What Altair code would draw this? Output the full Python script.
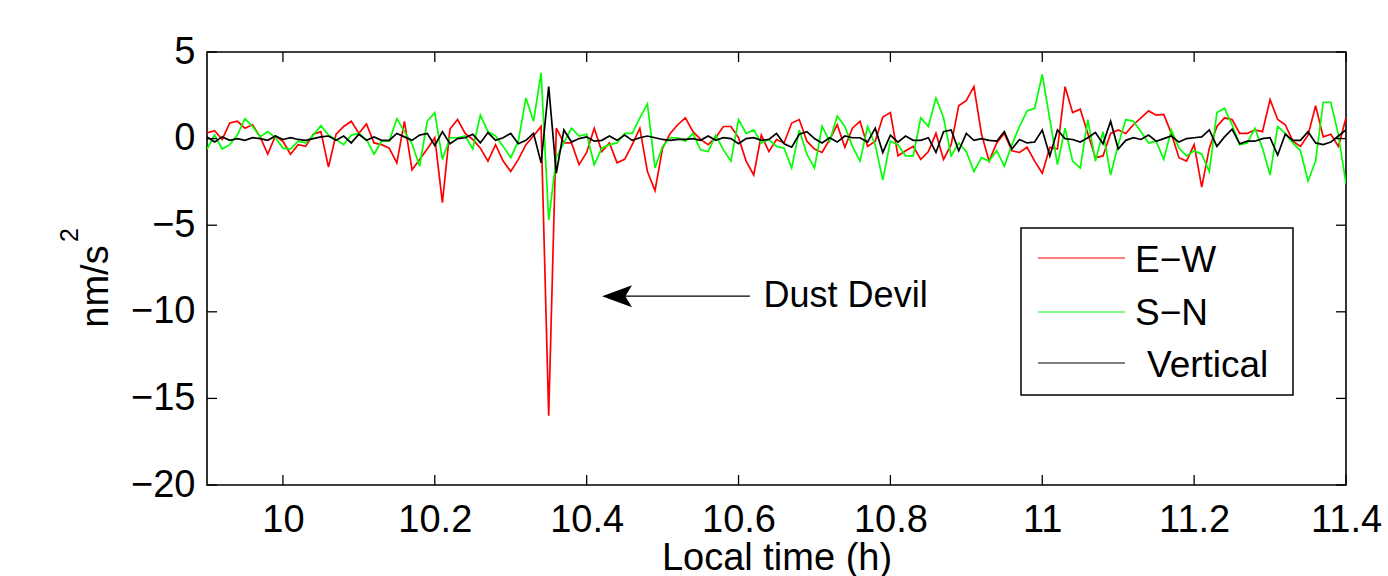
import altair as alt
import pandas as pd
import numpy as np

# Time grid (h): 9.90 ... 11.40, step 0.01
t_start = 9.9
t_step = 0.01
n_pts = 151

ew = [0.33, 0.46, -0.05, 0.9, 1.0, 0.6, 0.8, 0.1, -0.9, 0.15, -0.15, -0.9, -0.35, -0.45, 0.25, 0.4, -1.65, 0.25, 0.7, 1.0, 0.3, 0.85, -0.25, -0.35, -0.55, -1.4,
      1.0, -1.8, -1.2, -0.6, 0.05, -3.7, 0.55, 1.1, 0.3, -0.05, -0.55, -1.3, -0.35, -1.3, -1.9, -1.2, -0.35, 0.15, 0.7, -16.0, 0.6, -0.25, -0.25, -1.5, -0.8, 0.6,
      -0.75, -0.25, -1.4, -1.2, -0.35, 0.6, -1.9, -3.0, -0.55, 0.3, 0.8, 1.2, 0.4, -0.05, -0.35, 0.05, 0.7, 0.7, 0.05, -1.3, -2.1, 0.2, -0.75, -0.05, -0.25,
      0.9, 1.1, -0.15, -0.6, -0.8, -0.05, 0.8, -0.5, 0.6, 1.0, -0.45, -0.15, 1.25, 1.5, -1.0, -0.7, -0.45, -1.2, -0.75, 0.3, -1.2, -0.35, 1.9, 2.2, 3.0, 0.25,
      -1.3, -0.25, 0.3, -0.7, -0.8, -0.5, -1.3, -2.0, -0.5, -0.6, 3.0, 1.5, 1.7, 0.3, -1.1, -1.0, 0.3, 0.5, 0.3, 0.8, 1.2, 1.6, 1.35, 1.4, 0.3, -1.1,
      -1.3, -0.35, -2.8, -0.55, 0.7, 1.2, 1.1, 0.3, 0.3, 0.5, 0.4, 2.25, 1.1, 0.8, -0.15, -0.45, 0.2, 1.9, 0.1, 0.25, -0.45, 1.2]

sn = [-0.6, 0.2, -0.6, -0.35, 0.2, 1.15, 0.7, 0.1, 0.4, 0.05, -0.55, -0.6, -0.15, -0.25, 0.2, 0.75, 0.2, -0.05, -0.35, 0.2, 0.3, -0.05, -0.9, -0.15, -0.15, 1.15,
      0.4, -0.3, -1.6, 1.0, 1.5, -1.2, 0.05, 0.05, 0.15, -0.6, 1.35, 0.4, 0.15, -0.45, -1.1, -0.15, 2.35, 1.0, 3.8, -4.7, -1.1, -0.25, 0.6, 0.15, 0.25, -1.5,
      -0.55, -0.35, -0.25, 0.3, 0.3, 1.2, 2.0, -1.7, -0.45, 0.05, 0.05, -0.15, 0.3, -0.65, -0.75, 0.2, -0.65, -1.3, 1.1, 0.3, 0.5, -0.25, -0.05, -0.45, -0.55,
      -1.7, 0.5, -0.9, -1.7, 0.7, -0.15, 1.3, 0.7, -0.45, -1.3, 0.7, -0.35, -2.4, -0.15, -0.35, -1.0, -1.0, 1.2, 0.7, 2.35, 1.2, -1.0, -0.25, -0.75, -1.9, -1.1,
      -1.3, -0.7, -1.6, -0.35, 0.7, 1.6, 1.75, 3.7, 1.1, -1.5, 0.6, -1.3, -1.7, 1.1, -1.3, 0.4, -2.1, -0.35, 1.1, 1.0, 0.4, -0.25, -0.15, -1.2, 0.5, -0.55,
      -1.0, -0.7, -0.9, -1.9, 1.5, 1.75, 0.8, -0.35, -0.25, 0.6, -0.55, -2.1, 0.7, 0.3, -0.25, -0.7, -2.45, -1.3, 2.1, 2.1, 0.2, -2.6]

vert = [0.1, -0.2, 0.1, -0.1, 0.0, -0.1, 0.05, 0.0, -0.1, 0.15, -0.05, 0.05, -0.05, -0.1, 0.0, 0.1, 0.15, -0.1, 0.15, -0.25, 0.25, -0.1, 0.1, -0.1, -0.1, 0.3,
        0.1, -0.1, 0.2, 0.3, -0.4, 0.4, -0.3, 0.0, 0.05, 0.25, -0.25, 0.35, -0.1, 0.05, 0.3, -0.3, -0.1, 0.3, -1.4, 3.0, -2.0, 0.5, -0.2, 0.0, 0.1, -0.15,
        -0.1, 0.15, -0.1, 0.2, -0.1, 0.05, 0.15, 0.05, -0.05, -0.1, -0.05, -0.05, 0.0, -0.1, 0.15, -0.1, 0.05, 0.0, -0.3, 0.0, 0.05, -0.1, -0.05, 0.3, -0.3,
        -0.5, 0.25, 0.4, 0.0, -0.25, 0.05, -0.2, 0.15, 0.05, 0.05, -0.2, 0.6, -0.8, 0.2, -0.2, 0.15, -0.1, -0.1, 0.05, -0.8, 0.4, 0.5, -0.7, 0.3, -0.1, 0.0,
        -0.1, -0.15, 0.4, -0.6, -0.05, -0.25, -0.2, 0.5, -1.0, 0.5, 0.0, -0.05, -0.2, 0.05, 0.35, -0.3, 1.0, -0.6, -0.1, 0.05, -0.05, 0.2, -0.15, 0.0, 0.15, -0.2,
        0.0, 0.05, 0.1, 0.5, -0.45, 0.1, 0.55, -0.3, -0.15, -0.15, 0.0, 0.05, -0.95, 0.25, -0.1, -0.1, 0.4, -0.25, -0.35, -0.2, 0.15, 0.5]

x_ticks = [10.0, 10.2, 10.4, 10.6, 10.8, 11.0, 11.2, 11.4]
y_ticks = [-20, -15, -10, -5, 0, 5]
series_names = ["E\u2212W", "S\u2212N", "Vertical"]
series_colors = ["#ff0000", "#00ff00", "#000000"]

W, H = 1139, 433
FONT = "Liberation Sans"

t = np.round(t_start + t_step * np.arange(n_pts), 2)
df_ew = pd.DataFrame({"t": t, "v": ew})
df_sn = pd.DataFrame({"t": t, "v": sn})
df_vt = pd.DataFrame({"t": t, "v": vert})

xscale = alt.Scale(domain=[9.9, 11.4], nice=False, zero=False)
yscale = alt.Scale(domain=[-20, 5], nice=False, zero=False)

x_axis = alt.Axis(values=x_ticks, format=".1~f", ticks=False, domain=False, grid=False,
                  labelFont=FONT, labelFontSize=38, labelPadding=16, labelColor="black",
                  title="Local time (h)", titleFont=FONT, titleFontSize=38, titleFontWeight="normal",
                  titleColor="black", titleX=W / 2, titleY=84, titleBaseline="alphabetic",
                  labelFlush=False, labelOverlap=False)
y_axis = alt.Axis(values=y_ticks, ticks=False, domain=False, grid=False,
                  labelFont=FONT, labelFontSize=38, labelPadding=12, labelColor="black",
                  title="nm/s", titleFont=FONT, titleFontSize=38, titleFontWeight="normal",
                  titleColor="black", titleAngle=270, titleX=-100, titleY=234,
                  titleAlign="center", titleBaseline="alphabetic", labelOverlap=False)


def X(field):
    return alt.X(field, type="quantitative", scale=xscale, axis=x_axis)


def Y(field):
    return alt.Y(field, type="quantitative", scale=yscale, axis=y_axis)


def line_layer(df, color):
    return alt.Chart(df).mark_line(color=color, strokeWidth=1.7, clip=True).encode(
        x=X("t"), y=Y("v"))


red = line_layer(df_ew, series_colors[0])
green = line_layer(df_sn, series_colors[1])
black = line_layer(df_vt, series_colors[2])

xt = pd.DataFrame({"t": x_ticks})
yt = pd.DataFrame({"v": y_ticks})
tick_style = dict(color="black", strokeWidth=1.3)
xt_bot = alt.Chart(xt).mark_rule(**tick_style).encode(x=X("t"), y=alt.value(H), y2=alt.value(H - 10))
xt_top = alt.Chart(xt).mark_rule(**tick_style).encode(x=X("t"), y=alt.value(0), y2=alt.value(10))
yt_left = alt.Chart(yt).mark_rule(**tick_style).encode(y=Y("v"), x=alt.value(0), x2=alt.value(10))
yt_right = alt.Chart(yt).mark_rule(**tick_style).encode(y=Y("v"), x=alt.value(W), x2=alt.value(W - 10))

# Annotation: arrow + text
ann = pd.DataFrame({"t": [10.44], "t1": [10.615], "v": [-9.1], "tt": [10.633], "label": ["Dust Devil"]})
arrow_line = alt.Chart(ann).mark_rule(color="black", strokeWidth=1.3).encode(
    x=X("t"), x2="t1:Q", y=Y("v"))
arrow_head = alt.Chart(ann).mark_point(
    shape="M -1 0 L 1 -0.73 L 0.55 0 L 1 0.73 Z", filled=True, color="black", opacity=1, size=900
).encode(x=X("t"), y=Y("v"))
arrow_text = alt.Chart(ann).mark_text(
    font=FONT, fontSize=36, align="left", baseline="middle", color="black"
).encode(x=X("tt"), y=Y("v"), text="label:N")

# Superscript "2" of the y-axis unit
sup2 = alt.Chart(ann).mark_text(
    font=FONT, fontSize=25, align="center", baseline="alphabetic", angle=270,
    color="black", text="2"
).encode(x=alt.value(-129), y=alt.value(183))

# Legend (drawn manually, MATLAB style)
legend_layers = [
    alt.Chart(ann).mark_rect(fill="white", stroke="black", strokeWidth=1.5).encode(
        x=alt.value(814), x2=alt.value(1086), y=alt.value(176), y2=alt.value(343))
]
leg_line_y = [206, 260, 311]
leg_text_y = [220, 273, 325]
leg_text_x = [928, 928, 940]
for name, col, ly, ty, tx in zip(series_names, series_colors, leg_line_y, leg_text_y, leg_text_x):
    legend_layers.append(
        alt.Chart(ann).mark_rule(color=col, strokeWidth=1.2).encode(
            x=alt.value(831), x2=alt.value(918), y=alt.value(ly)))
    legend_layers.append(
        alt.Chart(ann).mark_text(font=FONT, fontSize=37, align="left", baseline="alphabetic",
                                 color="black", text=name).encode(
            x=alt.value(tx), y=alt.value(ty)))

chart = alt.layer(
    red, green, black, xt_bot, xt_top, yt_left, yt_right,
    arrow_line, arrow_head, arrow_text, sup2, *legend_layers
).properties(
    width=W, height=H,
    padding={"left": 207, "top": 52, "right": 42, "bottom": 91},
    autosize="none",
    background="white",
).configure_view(stroke="black", strokeWidth=1.6)

chart.save("out.html", embed_options={"renderer": "svg", "actions": False})
